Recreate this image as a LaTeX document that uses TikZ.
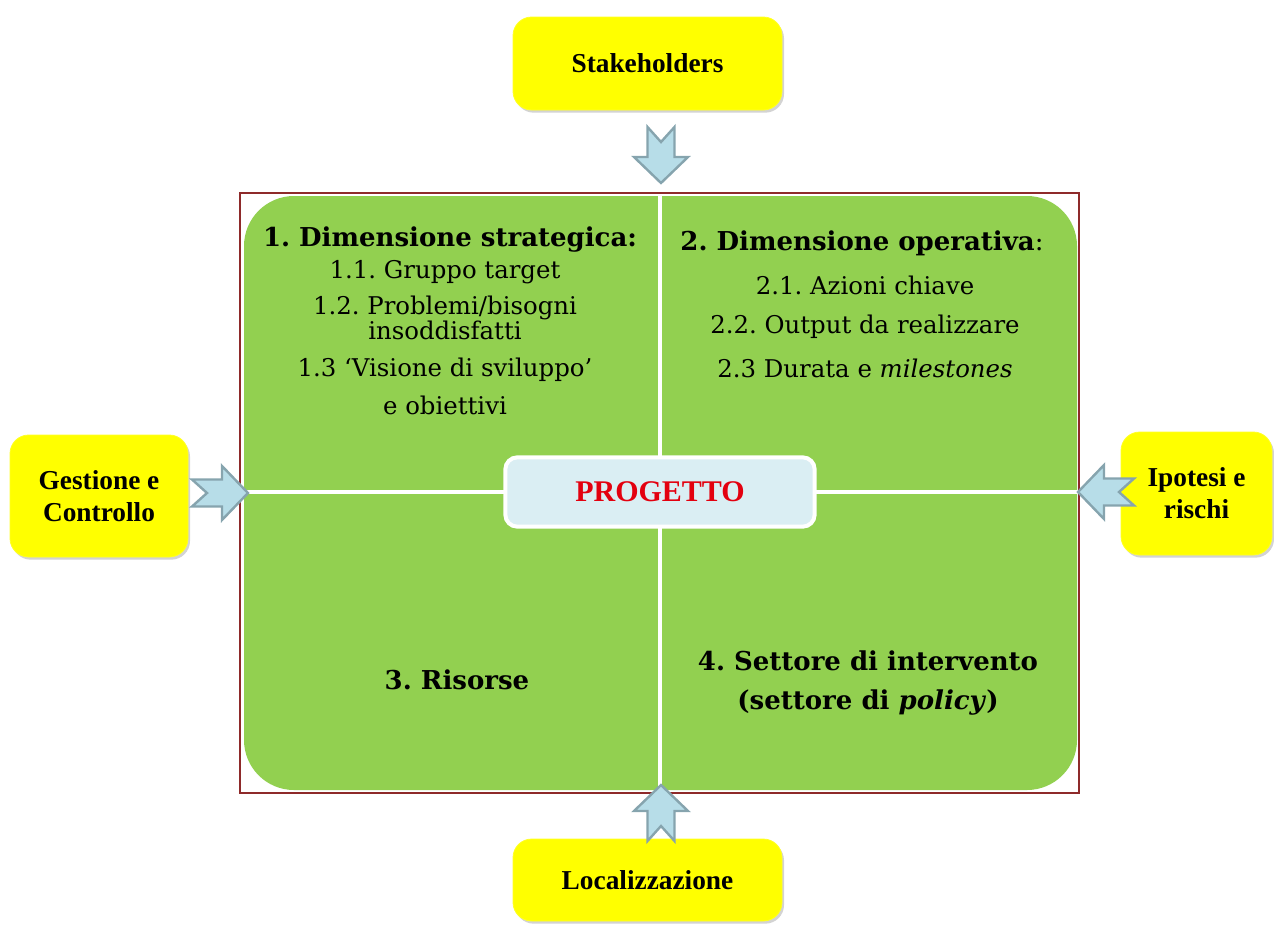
\documentclass[tikz,border=0pt]{standalone}
\usepackage{fontspec}
\setmainfont{DejaVu Serif}
\newfontfamily\boxfont{Liberation Serif}
\usetikzlibrary{shadows}
\frenchspacing
\definecolor{qgreen}{HTML}{92D050}
\definecolor{pblue}{HTML}{DAEEF3}
\definecolor{afill}{HTML}{B7DDE8}
\definecolor{aline}{HTML}{86A4AE}
\definecolor{framered}{HTML}{8E2A2A}
\definecolor{progred}{HTML}{E3000F}
\definecolor{byellow}{RGB}{255,255,0}
\tikzset{
  ybox/.style={fill=byellow, draw=byellow!85!white, line width=0.6pt, rounded corners=14pt,
    drop shadow={opacity=0.35, shadow xshift=1.5pt, shadow yshift=-2pt},
    font=\boxfont\bfseries\fontsize{20.5}{24}\selectfont, align=center, inner sep=0pt},
  ttl/.style={font=\bfseries\fontsize{19.5}{22}\selectfont, align=center, inner sep=0pt},
  bdy/.style={font=\fontsize{18.3}{19.5}\selectfont, align=center, inner sep=0pt},
  notcharrow/.pic={\draw[fill=afill, draw=aline, line width=1.8pt, line join=miter]
    (0,13.5) -- (30,13.5) -- (30,27) -- (56,0) -- (30,-27) -- (30,-13.5) -- (0,-13.5) -- (15,0) -- cycle;}
}
\begin{document}
\begin{tikzpicture}[x=0.75pt, y=-0.75pt]
\useasboundingbox (0,0) rectangle (1274,925);
% frame and green field
\draw[framered, line width=0.8pt] (240,193) rectangle (1079,793);
\fill[qgreen, rounded corners=37.5pt] (244,196) rectangle (1077,790);
\draw[white, line width=2.8pt] (660,196) -- (660,790);
\draw[white, line width=2.8pt] (244,492) -- (1077,492);
% centre node
\node[fill=pblue, draw=white, line width=3pt, rounded corners=9pt,
      minimum width=232pt, minimum height=52pt,
      font=\boxfont\bfseries\fontsize{22.5}{26}\selectfont, text=progred] (prog) at (660,492) {PROGETTO};
% quadrant texts
\node[ttl] (t1) at (450,240) {1. Dimensione strategica:};
\node[bdy] (t11) at (445,272) {1.1. Gruppo target};
\node[bdy, font=\fontsize{18.3}{17.5}\selectfont] (t12) at (445,318) {1.2. Problemi/bisogni\\insoddisfatti};
\node[bdy] (t13) at (445,370) {1.3 ‘Visione di sviluppo’};
\node[bdy] (t14) at (445,405) {e obiettivi};
\node[ttl] (t2) at (862,243) {2. Dimensione operativa\mdseries:};
\node[bdy] (t21) at (865,285) {2.1. Azioni chiave};
\node[bdy] (t22) at (865,327) {2.2. Output da realizzare};
\node[bdy] (t23) at (865,368) {2.3 Durata e \textit{milestones}};
\node[ttl] (t3) at (457,680) {3. Risorse};
\node[ttl, font=\bfseries\fontsize{19.5}{29}\selectfont] (t4) at (868,683) {4. Settore di intervento\\(settore di \textit{policy})};
% yellow boxes
\node[ybox, minimum width=201.75pt, minimum height=69.75pt] (stake) at (647.5,63.5) {Stakeholders};
\node[ybox, minimum width=133.5pt, minimum height=91.5pt] (gest) at (99,496) {Gestione e\\Controllo};
\node[ybox, minimum width=113.25pt, minimum height=92.25pt] (ipot) at (1196.5,493.5) {Ipotesi e\\rischi};
\node[ybox, minimum width=201.75pt, minimum height=61.5pt] (loc) at (647.5,880) {Localizzazione};
% block arrows
\pic[rotate=-90] at (661,127) {notcharrow};
\pic[rotate=0] at (192,493) {notcharrow};
\pic[rotate=180] at (1134,492) {notcharrow};
\pic[rotate=90] at (661,841) {notcharrow};
\end{tikzpicture}
\end{document}
